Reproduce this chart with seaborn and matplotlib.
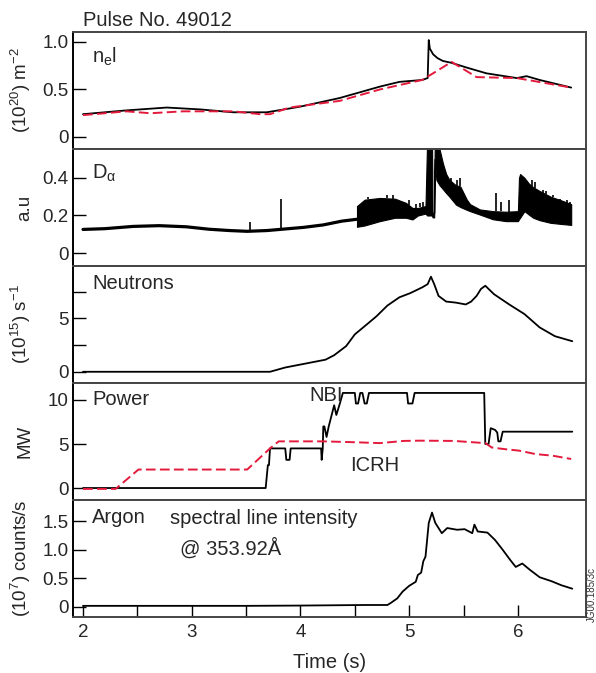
import numpy as np
import pandas as pd
import matplotlib
matplotlib.use("Agg")
import matplotlib.pyplot as plt
import seaborn as sns

# ---------------- data ----------------
ne_t = [2.0, 2.4, 2.77, 3.08, 3.38, 3.69, 3.9, 4.0, 4.36, 4.73, 4.91, 5.12, 5.17, 5.18,
        5.19, 5.22, 5.26, 5.31, 5.39, 5.53, 5.71, 5.99, 6.08, 6.2, 6.49]
ne_v = [0.24, 0.28, 0.31, 0.29, 0.26, 0.26, 0.30, 0.32, 0.41, 0.53, 0.58, 0.60, 0.62, 1.02,
        0.93, 0.87, 0.83, 0.80, 0.78, 0.73, 0.67, 0.62, 0.64, 0.60, 0.52]
ner_t = [2.0, 2.4, 2.62, 2.92, 3.38, 3.63, 3.72, 3.9, 4.36, 4.73, 5.12, 5.39, 5.62, 5.99, 6.49]
ner_v = [0.23, 0.27, 0.25, 0.27, 0.27, 0.24, 0.24, 0.31, 0.38, 0.50, 0.60, 0.79, 0.63, 0.62, 0.52]

da_t = [2.0, 2.2, 2.46, 2.70, 2.95, 3.16, 3.35, 3.51, 3.69, 3.85, 4.03, 4.21, 4.38, 4.52]
da_v = [0.126, 0.13, 0.142, 0.146, 0.14, 0.127, 0.12, 0.116, 0.12, 0.128, 0.137, 0.15, 0.17, 0.18]
band_t = [4.52, 4.59, 4.73, 4.87, 4.97, 5.03, 5.08, 5.15, 5.165, 5.21, 5.215, 5.23, 5.235,
          5.25, 5.28, 5.31, 5.34, 5.37, 5.43, 5.47, 5.53, 5.56, 5.65, 5.77, 5.89, 6.0, 6.01,
          6.02, 6.06, 6.1, 6.14, 6.2, 6.3, 6.4, 6.49]
band_lo = [0.14, 0.147, 0.17, 0.188, 0.188, 0.179, 0.2, 0.21, 0.2, 0.2, 0.19, 0.19, 0.5,
           0.389, 0.36, 0.34, 0.319, 0.30, 0.258, 0.245, 0.23, 0.223, 0.205, 0.18, 0.17, 0.17,
           0.18, 0.188, 0.223, 0.205, 0.188, 0.175, 0.161, 0.155, 0.15]
band_hi = [0.25, 0.284, 0.293, 0.289, 0.267, 0.24, 0.24, 0.25, 0.6, 0.6, 0.215, 0.215, 0.6,
           0.6, 0.55, 0.477, 0.42, 0.389, 0.36, 0.354, 0.284, 0.26, 0.232, 0.223, 0.22, 0.223,
           0.40, 0.42, 0.40, 0.37, 0.35, 0.33, 0.30, 0.28, 0.26]
spike_t = [3.54, 3.82, 4.62, 4.80, 4.85, 5.0, 5.06, 5.1, 5.13, 5.38, 5.44, 5.47, 5.80, 5.84,
           5.92, 6.13, 6.16, 6.23, 6.26, 6.32, 6.39, 6.45, 6.48]
spike_top = [0.165, 0.29, 0.30, 0.31, 0.31, 0.28, 0.26, 0.265, 0.27, 0.40, 0.39, 0.40, 0.32,
             0.27, 0.28, 0.386, 0.38, 0.336, 0.33, 0.31, 0.29, 0.28, 0.27]

neu_t = [2.0, 3.72, 3.86, 4.23, 4.31, 4.42, 4.50, 4.61, 4.70, 4.80, 4.91, 5.01, 5.12, 5.17,
         5.20, 5.23, 5.27, 5.34, 5.43, 5.52, 5.57, 5.62, 5.66, 5.70, 5.78, 5.92, 6.06, 6.20,
         6.34, 6.50]
neu_v = [0.0, 0.0, 0.4, 1.13, 1.55, 2.4, 3.5, 4.43, 5.2, 6.2, 6.97, 7.36, 7.9, 8.2, 8.9, 8.2,
         7.1, 6.57, 6.47, 6.3, 6.57, 7.1, 7.75, 8.05, 7.26, 6.3, 5.4, 4.15, 3.33, 2.86]

nbi_t = [2.0, 3.68, 3.70, 3.71, 3.72, 3.86, 3.87, 3.90, 3.91, 4.19, 4.195, 4.205, 4.21, 4.22,
         4.24, 4.26, 4.31, 4.33, 4.36, 4.39, 4.50, 4.51, 4.53, 4.55, 4.57, 4.59, 4.61, 4.63,
         4.98, 4.99, 5.03, 5.05, 5.69, 5.70, 5.73, 5.75, 5.79, 5.81, 5.82, 5.84, 5.86, 6.5]
nbi_v = [0, 0, 2.6, 2.6, 4.5, 4.5, 3.2, 3.2, 4.5, 4.5, 3.2, 4.5, 7.0, 7.0, 5.8, 7.0, 9.4,
         8.3, 9.5, 10.8, 10.8, 9.6, 9.6, 10.8, 10.8, 9.6, 9.6, 10.8, 10.8, 9.6, 9.6, 10.8,
         10.8, 5.0, 5.0, 6.8, 6.6, 6.3, 5.3, 5.3, 6.4, 6.4]
icrh_t = [2.0, 2.30, 2.51, 3.51, 3.72, 3.80, 4.21, 4.5, 4.73, 4.95, 5.1, 5.41, 5.70, 5.76,
          5.89, 6.01, 6.16, 6.32, 6.49]
icrh_v = [-0.1, -0.1, 2.1, 2.1, 4.5, 5.3, 5.3, 5.2, 5.1, 5.35, 5.38, 5.35, 5.1, 4.6, 4.4,
          4.25, 3.86, 3.67, 3.3]

ar_t = [2.0, 2.5, 3.0, 3.5, 4.0, 4.3, 4.6, 4.80, 4.83, 4.89, 4.94, 5.0, 5.06, 5.08, 5.11,
        5.13, 5.15, 5.18, 5.21, 5.24, 5.30, 5.35, 5.44, 5.51, 5.58, 5.60, 5.63, 5.72, 5.79,
        5.86, 5.93, 5.98, 6.04, 6.11, 6.2, 6.31, 6.4, 6.5]
ar_v = [0.02, 0.02, 0.02, 0.02, 0.025, 0.03, 0.035, 0.035, 0.07, 0.15, 0.27, 0.37, 0.44,
        0.56, 0.60, 0.80, 0.88, 1.47, 1.65, 1.47, 1.29, 1.38, 1.35, 1.36, 1.29, 1.44, 1.32,
        1.30, 1.17, 1.0, 0.82, 0.70, 0.76, 0.65, 0.52, 0.45, 0.38, 0.32]

x_major = [2, 3, 4, 5, 6]
x_minor = [2.5, 3.5, 4.5, 5.5]

# ---------------- style ----------------
sns.set_theme(style="white")
plt.rcParams["font.family"] = ["Liberation Sans", "DejaVu Sans"]
plt.rcParams["mathtext.fontset"] = "custom"
plt.rcParams["mathtext.rm"] = "Liberation Sans"
plt.rcParams["mathtext.it"] = "Liberation Sans:italic"
plt.rcParams["mathtext.sf"] = "Liberation Sans"
plt.rcParams["lines.dashed_pattern"] = [5.0, 2.2]

RED = "#e31a3c"
FS = 14.5
LFS = 13.5

fig, axes = plt.subplots(5, 1, figsize=(5.96, 6.73), dpi=100, sharex=True,
                         gridspec_kw={"hspace": 0})
fig.subplots_adjust(left=0.1225, right=0.983, top=0.9525, bottom=0.0832)


def line(ax, t, v, color="black", lw=1.3, dashed=False, z=2):
    df = pd.DataFrame({"t": t, "v": v})
    sns.lineplot(data=df, x="t", y="v", ax=ax, color=color, lw=lw, estimator=None,
                 sort=False, linestyle="--" if dashed else "-", zorder=z)
    ax.set_xlabel("")


# Panel 1: ne l
ax = axes[0]
line(ax, ne_t, ne_v)
line(ax, ner_t, ner_v, color=RED, lw=1.4, dashed=True, z=3)
ax.set_ylim(-0.126, 1.105)
ax.set_yticks([0, 0.5, 1.0])
ax.set_yticklabels(["0", "0.5", "1.0"])
ax.set_ylabel(r"(10$^{20}$) m$^{-2}$")
ax.text(0.037, 0.79, r"n$_{\mathrm{e}}$l", transform=ax.transAxes, fontsize=FS,
        va="center", ha="left")

# Panel 2: D alpha
ax = axes[1]
line(ax, da_t, da_v, lw=2.3)
ax.fill_between(band_t, band_lo, band_hi, color="black", lw=0.8)
all_t = da_t + band_t
all_hi = da_v + band_hi
ax.vlines(spike_t, np.interp(spike_t, all_t, all_hi), spike_top, color="black", lw=1.2)
ax.set_ylim(-0.068, 0.553)
ax.set_yticks([0, 0.2, 0.4])
ax.set_yticklabels(["0", "0.2", "0.4"])
ax.set_ylabel("a.u")
ax.text(0.037, 0.79, r"D$_{\mathrm{α}}$", transform=ax.transAxes, fontsize=FS,
        va="center", ha="left")

# Panel 3: neutrons
ax = axes[2]
line(ax, neu_t, neu_v)
ax.set_ylim(-1.05, 9.9)
ax.set_yticks([0, 5])
ax.set_yticklabels(["0", "5"])
ax.set_yticks([2.5, 7.5], minor=True)
ax.set_ylabel(r"(10$^{15}$) s$^{-1}$")
ax.text(0.037, 0.85, "Neutrons", transform=ax.transAxes, fontsize=FS,
        va="center", ha="left")

# Panel 4: power
ax = axes[3]
line(ax, nbi_t, nbi_v)
line(ax, icrh_t, icrh_v, color=RED, lw=1.4, dashed=True, z=3)
ax.set_ylim(-1.36, 11.93)
ax.set_yticks([0, 5, 10])
ax.set_yticklabels(["0", "5", "10"])
ax.set_ylabel("MW")
ax.text(0.037, 0.86, "Power", transform=ax.transAxes, fontsize=FS,
        va="center", ha="left")
ax.text(4.39, 10.5, "NBI", fontsize=FS, ha="right", va="center")
ax.text(4.46, 2.6, "ICRH", fontsize=FS, ha="left", va="center")

# Panel 5: argon
ax = axes[4]
line(ax, ar_t, ar_v)
ax.set_ylim(-0.175, 1.87)
ax.set_yticks([0, 0.5, 1.0, 1.5])
ax.set_yticklabels(["0", "0.5", "1.0", "1.5"])
ax.set_ylabel(r"(10$^{7}$) counts/s")
ax.text(0.037, 0.85, "Argon", transform=ax.transAxes, fontsize=FS,
        va="center", ha="left")
ax.text(2.8, 1.54, "spectral line intensity", fontsize=FS, ha="left", va="center")
ax.text(2.89, 1.03, "@ 353.92Å", fontsize=FS, ha="left", va="center")
ax.set_xlabel("Time (s)", fontsize=FS, labelpad=9)

ax.set_xlim(1.908, 6.625)
ax.set_xticks(x_major)
ax.set_xticklabels([str(v) for v in x_major])
ax.set_xticks(x_minor, minor=True)

for i, a in enumerate(axes):
    a.yaxis.label.set_fontsize(LFS)
    a.yaxis.set_label_coords(-0.078, 0.5)
    a.tick_params(axis="y", which="both", left=True, right=False, direction="in",
                  length=9, width=1, color="black", labelsize=13.5, pad=3)
    if i < 4:
        a.tick_params(axis="x", which="both", bottom=False, labelbottom=False)
    else:
        a.tick_params(axis="x", which="both", bottom=True, direction="in",
                      length=9, width=1, color="black", labelsize=13.5, pad=5)
    for s in a.spines.values():
        s.set_color("#444444")
        s.set_linewidth(1.4)
    a.spines["left"].set_color("black")

fig.text(83 / 596, 1 - 20 / 673, "Pulse No. 49012", fontsize=FS, ha="left", va="center")
fig.text(587 / 596, 1 - 622 / 673, "JG00.185/3c", fontsize=7, rotation=90,
         ha="left", va="bottom", color="#333333")

fig.savefig("out.png", dpi=100)
